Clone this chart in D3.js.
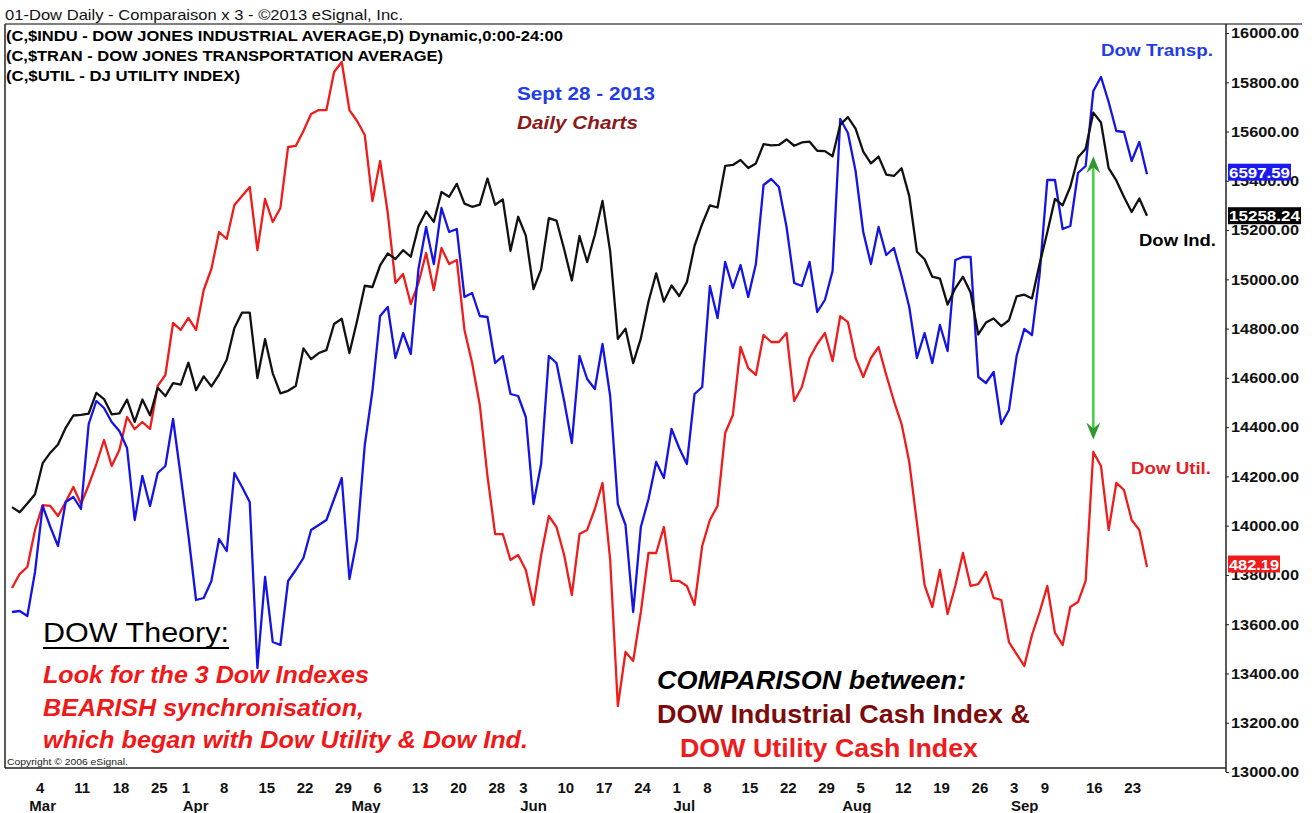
<!DOCTYPE html>
<html><head><meta charset="utf-8">
<script src="https://cdn.jsdelivr.net/npm/d3@7"></script>
<style>
body{margin:0;background:#fff;}
svg{display:block;}
text{font-family:"Liberation Sans",Arial,Helvetica,sans-serif;}
</style>
</head><body>
<svg id="chart" width="1312" height="813"></svg>
<script>
// ---------------- DATA ----------------
const marketHolidays = ["2013-03-29","2013-05-27","2013-07-04","2013-09-02"];
const firstDay = new Date(2013, 1, 27);   // Feb 27 2013
const lastDayExcl = new Date(2013, 8, 28); // up to Sep 27 2013

// Dow Jones Industrial Average (right axis units)
const indu = [14075.37,14054.49,14089.66,14127.82,14253.77,14296.24,14329.49,14397.07,14447.29,14450.06,
14455.28,14539.14,14514.11,14452.06,14455.82,14511.73,14421.49,14512.03,14447.75,14559.65,
14526.16,14578.54,14572.85,14662.01,14550.35,14606.11,14565.25,14613.48,14673.46,14802.24,
14865.14,14865.06,14599.20,14756.78,14618.59,14537.14,14547.51,14567.17,14719.46,14676.30,
14700.80,14712.55,14818.75,14839.80,14700.95,14831.58,14973.96,14968.89,15056.20,15105.12,
15082.62,15118.49,15091.68,15215.25,15275.69,15233.22,15354.40,15335.28,15387.58,15307.17,
15294.50,15303.10,15409.39,15302.80,15324.53,15115.57,15254.03,15177.54,14960.59,15040.62,
15248.12,15238.59,15122.02,14995.23,15176.08,15070.18,15179.85,15318.23,15112.19,14758.32,
14799.40,14659.56,14760.31,14910.14,15024.49,14909.60,14974.96,14932.41,14988.55,15135.84,
15224.69,15300.34,15291.66,15460.92,15464.30,15484.26,15451.85,15470.52,15548.54,15543.74,
15545.55,15567.74,15542.24,15555.61,15558.83,15521.97,15520.59,15499.54,15628.02,15658.36,
15612.13,15518.74,15470.67,15498.32,15425.51,15419.68,15451.01,15337.66,15112.19,15081.47,
15010.74,15002.99,14897.55,14963.74,15010.51,14946.46,14776.13,14824.51,14840.95,14810.31,
14833.96,14930.87,14937.48,14922.50,15063.12,15191.06,15326.60,15300.64,15376.06,15494.78,
15529.73,15676.94,15636.55,15451.09,15401.38,15334.59,15273.26,15328.30,15258.24];

// Dow Jones Transportation Average (own dynamic scale)
const tran = [5722,5724,5714,5802,5934,5892,5854,5942,5952,5928,
6098,6144,6130,6102,6084,6050,5906,5994,5934,6000,
6014,6108,5994,5876,5746,5750,5784,5868,5844,6000,
5972,5942,5610,5792,5662,5656,5784,5806,5830,5886,
5896,5906,5948,5990,5788,5868,6056,6164,6314,6332,
6230,6280,6238,6408,6492,6418,6530,6482,6488,6352,
6360,6314,6312,6220,6234,6158,6154,6112,5938,6018,
6234,6220,6144,6060,6234,6188,6168,6258,6154,5938,
5896,5722,5892,5948,6022,5990,6088,6050,6018,6158,
6172,6374,6310,6422,6370,6416,6352,6418,6576,6588,
6572,6492,6380,6374,6422,6322,6346,6404,6708,6680,
6604,6482,6418,6492,6436,6450,6394,6332,6230,6280,
6220,6296,6244,6426,6432,6432,6192,6180,6202,6098,
6126,6234,6288,6276,6398,6586,6586,6488,6494,6600,
6614,6764,6792,6742,6684,6682,6624,6662,6597.59];

// Dow Jones Utility Index (own dynamic scale)
const util = [479.92,481.43,482.19,486.20,488.90,488.80,487.71,489.23,490.85,489.01,
491.07,493.34,495.94,493.13,494.86,498.43,497.13,497.89,497.13,501.79,
502.98,508.61,507.85,509.15,507.85,512.18,514.45,518.46,517.70,521.38,
522.35,523.33,516.51,522.03,519.54,521.06,527.66,527.77,529.39,531.23,
531.66,531.66,535.78,536.86,531.66,530.47,528.96,521.81,526.14,520.51,
512.94,513.91,510.66,512.94,516.18,512.18,516.73,514.99,515.43,507.85,
504.28,499.73,492.04,485.76,485.76,482.95,483.49,481.87,478.08,483.49,
487.71,486.52,483.49,479.16,485.76,486.20,488.47,491.29,482.95,467.14,
472.99,472.02,477.32,483.71,483.71,486.52,480.68,480.68,480.14,478.08,
484.47,487.28,488.80,496.70,498.65,506.01,503.73,502.98,507.31,506.55,
506.55,507.52,500.16,501.68,504.82,506.33,507.52,504.49,509.36,508.71,
504.82,502.76,504.82,506.01,502.98,500.16,497.67,493.56,486.96,480.24,
477.86,481.87,477.10,480.14,483.71,480.14,480.35,481.65,478.84,478.62,
474.07,472.77,471.48,474.83,477.32,480.14,475.05,473.75,477.86,478.40,
480.68,494.64,493.13,486.20,491.29,490.53,487.28,486.20,482.19];

const weekTicks = ["2013-03-04","2013-03-11","2013-03-18","2013-03-25","2013-04-01","2013-04-08","2013-04-15",
"2013-04-22","2013-04-29","2013-05-06","2013-05-13","2013-05-20","2013-05-28","2013-06-03","2013-06-10",
"2013-06-17","2013-06-24","2013-07-01","2013-07-08","2013-07-15","2013-07-22","2013-07-29","2013-08-05",
"2013-08-12","2013-08-19","2013-08-26","2013-09-03","2013-09-09","2013-09-16","2013-09-23"];
const monthTicks = ["2013-03-01","2013-04-01","2013-05-01","2013-06-03","2013-07-01","2013-08-01","2013-09-03"];
const monthNames = ["Mar","Apr","May","Jun","Jul","Aug","Sep"];
const yTickValues = d3.range(13000, 16001, 200);
const lastLabels = ["6597.59","15258.24","482.19"];

// ---------------- SETUP ----------------
const svg = d3.select("#chart");
const fmt = d3.timeFormat("%Y-%m-%d");
const days = d3.timeDay.range(firstDay, lastDayExcl)
  .filter(d => d.getDay() !== 0 && d.getDay() !== 6 && !marketHolidays.includes(fmt(d)))
  .map(fmt);

const L = 5, R = 1226, T = 24, B = 768;
const x = d3.scalePoint().domain(days).range([12, 1147]);
const yInd = d3.scaleLinear().domain([13000, 16000]).range([772, 33]);
const yTran = d3.scaleLinear().domain([5402, 6880]).range([772, 33]);
const yUtil = d3.scaleLinear().domain([460, 540]).range([772, 33]);

svg.append("rect").attr("width",1312).attr("height",813).attr("fill","#fff");

function txt(xp, yp, s, o) {
  const t = svg.append("text").attr("x", xp).attr("y", yp).text(s)
    .attr("font-size", o.size || 15)
    .attr("font-weight", o.weight || "normal")
    .attr("font-style", o.style || "normal")
    .attr("fill", o.fill || "#000");
  if (o.width) t.attr("textLength", o.width).attr("lengthAdjust", "spacingAndGlyphs");
  if (o.anchor) t.attr("text-anchor", o.anchor);
  return t;
}

// header
txt(5, 20, "01-Dow Daily - Comparaison x 3 - ©2013 eSignal, Inc.", {size:15, width:398, fill:"#111"});
svg.append("line").attr("x1",L).attr("x2",1302).attr("y1",T).attr("y2",T).attr("stroke","#555").attr("stroke-width",1.5);
// frame
svg.append("line").attr("x1",L).attr("x2",L).attr("y1",T).attr("y2",B).attr("stroke","#222").attr("stroke-width",1.5);
svg.append("line").attr("x1",L).attr("x2",R).attr("y1",B).attr("y2",B).attr("stroke","#222").attr("stroke-width",1.5);

txt(6, 41, "(C,$INDU - DOW JONES INDUSTRIAL AVERAGE,D) Dynamic,0:00-24:00", {size:15, weight:"bold", width:557});
txt(6, 61, "(C,$TRAN - DOW JONES TRANSPORTATION AVERAGE)", {size:15, weight:"bold", width:437});
txt(6, 81, "(C,$UTIL - DJ UTILITY INDEX)", {size:15, weight:"bold", width:234});

// annotations
txt(517, 100, "Sept 28 - 2013", {size:19, weight:"bold", fill:"#1f3de6", width:138});
txt(517, 129, "Daily Charts", {size:19, weight:"bold", style:"italic", fill:"#8b1a1a", width:121});
txt(1101, 56, "Dow Transp.", {size:16, weight:"bold", fill:"#1f3de6", width:112});
txt(1139, 246, "Dow Ind.", {size:16, weight:"bold", fill:"#000", width:77});
txt(1131, 474, "Dow Util.", {size:16, weight:"bold", fill:"#e41e26", width:80});

txt(43, 642, "DOW Theory:", {size:28, fill:"#000", width:186});
svg.append("line").attr("x1",43).attr("x2",229).attr("y1",648).attr("y2",648).attr("stroke","#000").attr("stroke-width",2.2);
txt(43, 683, "Look for the 3 Dow Indexes", {size:23, weight:"bold", style:"italic", fill:"#f01818", width:326});
txt(43, 716, "BEARISH synchronisation,", {size:23, weight:"bold", style:"italic", fill:"#f01818", width:321});
txt(43, 748, "which began with Dow Utility & Dow Ind.", {size:23, weight:"bold", style:"italic", fill:"#f01818", width:485});

txt(657, 689, "COMPARISON between:", {size:25, weight:"bold", style:"italic", fill:"#000", width:309});
txt(657, 723, "DOW Industrial Cash Index &", {size:25, weight:"bold", fill:"#7d0b0b", width:373});
txt(680, 757, "DOW Utility Cash Index", {size:25, weight:"bold", fill:"#ee1c1c", width:298});

txt(7, 765, "Copyright © 2006 eSignal.", {size:9, fill:"#222", width:121});

// right axis
const yAxis = d3.axisRight(yInd).tickValues(yTickValues).tickFormat(d3.format(".2f")).tickSize(3).tickPadding(2);
const ga = svg.append("g").attr("transform", `translate(${R},0)`).call(yAxis);
ga.select(".domain").attr("d", `M0,${T}V772`).attr("stroke","#222").attr("stroke-width",1.5);
ga.selectAll(".tick line").attr("stroke","#222");
ga.selectAll(".tick text").attr("font-size",15).attr("font-weight","bold").attr("fill","#111")
  .attr("font-family",'"Liberation Sans",Arial,sans-serif')
  .attr("textLength",68).attr("lengthAdjust","spacingAndGlyphs");

// bottom labels (late-September labels sit a little right of their bar in the reference)
svg.append("g").selectAll("text").data(weekTicks).join("text")
  .attr("x", d => x(d) + (d >= "2013-09-16" ? 8 : 1)).attr("y", 793)
  .attr("font-size", 15).attr("font-weight","bold").attr("fill","#111")
  .text(d => String(+d.slice(8)));
svg.append("g").selectAll("text").data(monthTicks).join("text")
  .attr("x", d => x(d) + 2).attr("y", 811)
  .attr("font-size", 15).attr("font-weight","bold").attr("fill","#111")
  .text((d,i) => monthNames[i]);

// series lines
const mk = (ys) => d3.line().x((d,i) => x(days[i])).y(d => ys(d));
svg.append("path").datum(util).attr("d", mk(yUtil)).attr("fill","none").attr("stroke","#f01c1c").attr("stroke-width",2.3).attr("stroke-linejoin","round");
svg.append("path").datum(tran).attr("d", mk(yTran)).attr("fill","none").attr("stroke","#1414e6").attr("stroke-width",2.3).attr("stroke-linejoin","round");
svg.append("path").datum(indu).attr("d", mk(yInd)).attr("fill","none").attr("stroke","#111").attr("stroke-width",2.3).attr("stroke-linejoin","round");

// green double arrow (Sep 18)
const ax = x("2013-09-18"), aTop = yInd(15500), aBot = yInd(14350);
svg.append("line").attr("x1",ax).attr("x2",ax).attr("y1",aTop+4).attr("y2",aBot-4).attr("stroke","#3fd23f").attr("stroke-width",2.5);
svg.append("path").attr("d",`M${ax},${aTop} L${ax-7},${aTop+17} L${ax},${aTop+11} L${ax+7},${aTop+17} Z`).attr("fill","#2e9a2e");
svg.append("path").attr("d",`M${ax},${aBot} L${ax-7},${aBot-17} L${ax},${aBot-11} L${ax+7},${aBot-17} Z`).attr("fill","#2e9a2e");

// last value boxes
const boxes = [
  {y: yTran(tran[tran.length-1]) - 2, label: lastLabels[0], fill:"#1a1af0", w:63},
  {y: yInd(indu[indu.length-1]), label: lastLabels[1], fill:"#000", w:73},
  {y: yUtil(util[util.length-1]) - 3, label: lastLabels[2], fill:"#f01c1c", w:52}
];
boxes.forEach(b => {
  svg.append("rect").attr("x",1228).attr("y",b.y-8.5).attr("width",b.w).attr("height",17).attr("fill",b.fill);
  txt(1229, b.y+5.5, b.label, {size:15, weight:"bold", fill:"#fff", width:b.w-2});
});
</script>
</body></html>
